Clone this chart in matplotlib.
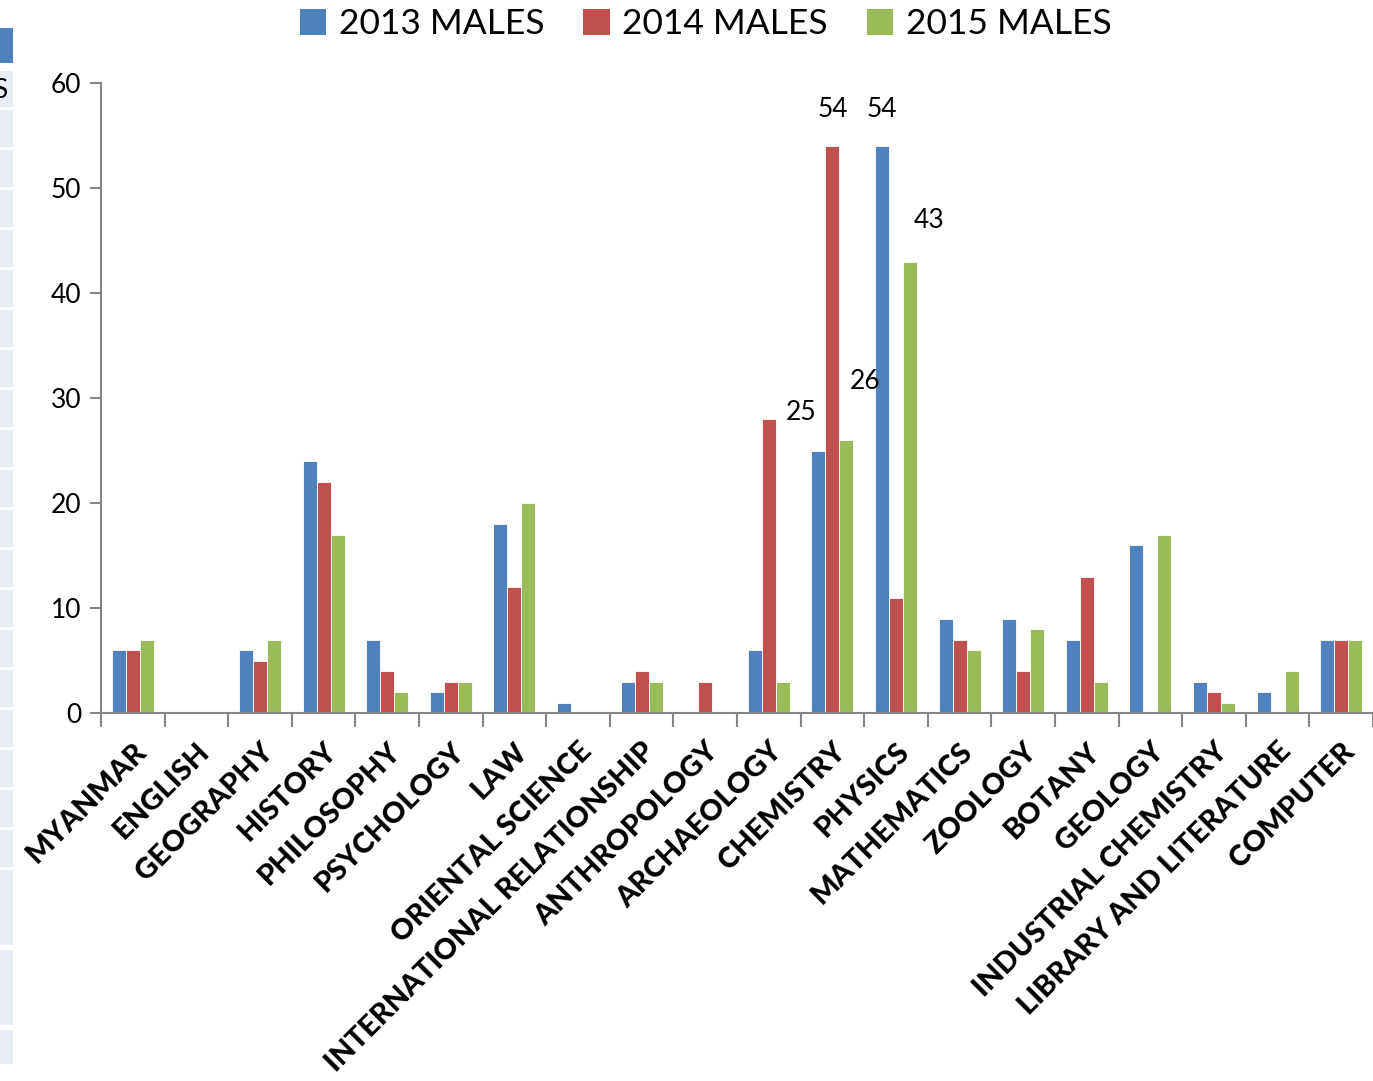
import matplotlib
matplotlib.use("Agg")
import matplotlib.pyplot as plt
from matplotlib.patches import Rectangle, Patch
import numpy as np

categories = ["MYANMAR", "ENGLISH", "GEOGRAPHY", "HISTORY", "PHILOSOPHY", "PSYCHOLOGY",
              "LAW", "ORIENTAL SCIENCE", "INTERNATIONAL RELATIONSHIP", "ANTHROPOLOGY",
              "ARCHAEOLOGY", "CHEMISTRY", "PHYSICS", "MATHEMATICS", "ZOOLOGY", "BOTANY",
              "GEOLOGY", "INDUSTRIAL CHEMISTRY", "LIBRARY AND LITERATURE", "COMPUTER"]
males_2013 = [6, 0, 6, 24, 7, 2, 18, 1, 3, 0, 6, 25, 54, 9, 9, 7, 16, 3, 2, 7]
males_2014 = [6, 0, 5, 22, 4, 3, 12, 0, 4, 3, 28, 54, 11, 7, 4, 13, 0, 2, 0, 7]
males_2015 = [7, 0, 7, 17, 2, 3, 20, 0, 3, 0, 3, 26, 43, 6, 8, 3, 17, 1, 4, 7]
series_names = ["2013 MALES", "2014 MALES", "2015 MALES"]
colors = ["#4F81BD", "#C0504D", "#9BBB59"]
# data labels shown in the chart: (category, series index)
labelled = [("CHEMISTRY", 0), ("CHEMISTRY", 1), ("CHEMISTRY", 2), ("PHYSICS", 0), ("PHYSICS", 2)]

plt.rcParams['font.family'] = ['Lato', 'DejaVu Sans']

fig = plt.figure(figsize=(13.73, 10.81), dpi=100)
ax = fig.add_axes([101/1373, 1-713/1081, 1-101/1373, (713-83)/1081])

x = np.arange(len(categories))
w = 0.22
series = [males_2013, males_2014, males_2015]
for i, (vals, c) in enumerate(zip(series, colors)):
    ax.bar(x + (i-1)*w, vals, width=w, color=c, edgecolor="#FFFFFF", linewidth=0.6)

ax.set_xlim(-0.5, len(categories)-0.5)
ax.set_ylim(0, 60)
ax.set_yticks(range(0, 61, 10))
ax.tick_params(axis='y', labelsize=19, length=8, width=1.5, color="#868686", pad=6)
ax.set_xticks(np.arange(-0.5, len(categories), 1.0), minor=False)
ax.set_xticklabels([])
ax.tick_params(axis='x', which='major', length=10, width=1.5, color="#868686")
ax.set_xticks(x, minor=True)
ax.set_xticklabels(categories, minor=True, rotation=45, ha='right', rotation_mode='anchor',
                   fontsize=21, fontweight='black')
ax.tick_params(axis='x', which='minor', length=0, pad=18)
for s in ['top', 'right']:
    ax.spines[s].set_visible(False)
for s in ['left', 'bottom']:
    ax.spines[s].set_color("#868686")
    ax.spines[s].set_linewidth(1.5)

label_offsets = {("CHEMISTRY", 0): (-0.27, 3.6), ("CHEMISTRY", 1): (0.0, 3.5),
                 ("CHEMISTRY", 2): (0.3, 5.6), ("PHYSICS", 0): (0.0, 3.5),
                 ("PHYSICS", 2): (0.3, 3.9)}
for cat, si in labelled:
    ci = categories.index(cat)
    v = series[si][ci]
    dx, dy = label_offsets[(cat, si)]
    ax.text(ci + (si-1)*w + dx, v + dy, str(v), ha='center', va='center', fontsize=19)

handles = [Patch(facecolor=c, edgecolor='none') for c in colors]
fig.legend(handles, series_names, loc='upper center', bbox_to_anchor=(0.514, 1.022), ncol=3,
           frameon=False, fontsize=25.5, handlelength=0.75, handleheight=0.75,
           handletextpad=0.35, columnspacing=1.1)

# cropped neighbouring panel at the left edge
fig.add_artist(Rectangle((0, 1-63/1081), 13/1373, 35/1081, transform=fig.transFigure,
                         facecolor="#4F81BD", edgecolor='none'))
cells = [(71, 107)] + [(110+40*k, 147+40*k) for k in range(19)] + [(870, 945), (950, 1025), (1030, 1064)]
for top, bot in cells:
    if bot > 867 and top < 867:
        continue
    fig.add_artist(Rectangle((0, 1-bot/1081), 13/1373, (bot-top)/1081, transform=fig.transFigure,
                             facecolor="#E9EDF4", edgecolor='none'))
fig.text(-0.005, 1-90/1081, "S", fontsize=19, va='center', ha='left')

fig.savefig("out.png", dpi=100)
